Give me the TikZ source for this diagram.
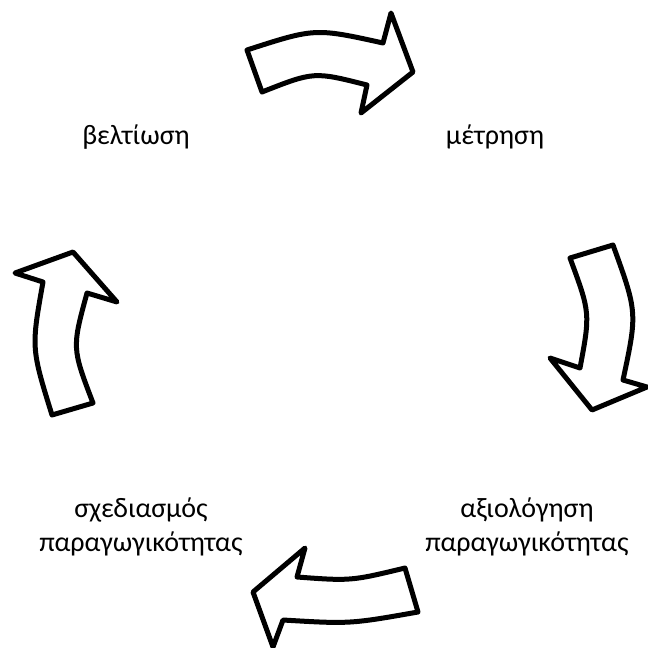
\documentclass[tikz,border=0pt]{standalone}
\usepackage{fontspec}
\setmainfont{Carlito}
\begin{document}
\begin{tikzpicture}[x=1pt,y=-1pt,
  cyclearrow/.style={draw=black,fill=white,line width=5pt,line join=round},
  lbl/.style={font=\fontsize{28}{34}\selectfont,align=center,inner sep=0pt}]
\useasboundingbox (0,0) rectangle (648,648);
% top arrow
\draw[cyclearrow] (247,50) .. controls (315,28) .. (383,43) -- (391,13) -- (413,72) -- (361,113) -- (367,85)
  .. controls (314,71.5) .. (262,92) -- cycle;
% right arrow
\draw[cyclearrow] (570,258) -- (613,245) .. controls (637.4,312.5) .. (623,380) -- (647,387) -- (592,410) -- (550,358) -- (580,368)
  .. controls (590.3,313) .. cycle;
% bottom arrow
\draw[cyclearrow] (405,568) -- (418,612) .. controls (350,624) .. (283,620) -- (273,647) -- (253,592) -- (305,548) -- (297,577)
  .. controls (351,581) .. cycle;
% left arrow
\draw[cyclearrow] (52,415) -- (93,403) .. controls (72,348) .. (87,293) -- (117,302) -- (73,252) -- (15,273) -- (43,282)
  .. controls (31.2,348) .. cycle;
\node[lbl] (improve) at (136,137) {βελτίωση};
\node[lbl] (measure) at (495,137) {μέτρηση};
\node[lbl] (plan) at (141,527) {σχεδιασμός\\παραγωγικότητας};
\node[lbl] (evaluate) at (527,527) {αξιολόγηση\\παραγωγικότητας};
\end{tikzpicture}
\end{document}
